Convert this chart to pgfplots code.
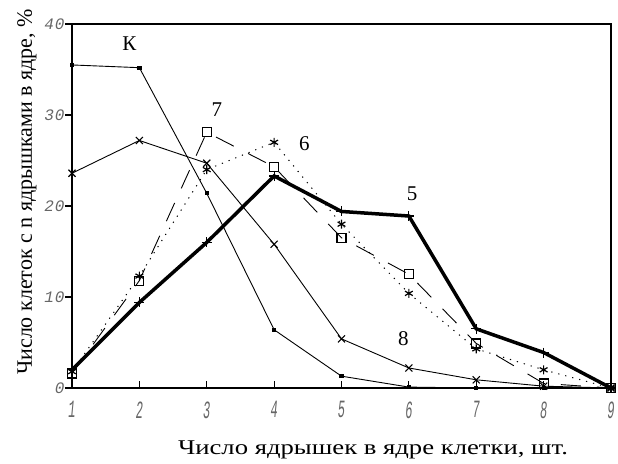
\documentclass[border=0pt]{standalone}
\usepackage{fontspec}
\setmainfont{Liberation Serif}
\newfontfamily\tickfont{Liberation Mono}
\usepackage{graphicx}
\usepackage{pgfplots}
\pgfplotsset{compat=1.18}
\definecolor{tickgray}{gray}{0.4}
\newcommand\xtl[1]{\scalebox{0.75}[1.55]{\fontsize{16}{16}\selectfont\tickfont\itshape\color{tickgray}#1}}
\newcommand\ytl[1]{{\fontsize{16}{16}\selectfont\tickfont\itshape\color{tickgray}#1}}
\begin{document}
\begin{tikzpicture}
\begin{axis}[
  at={(0,0)}, anchor=south west,
  scale only axis,
  width=539pt, height=364pt,
  xmin=1, xmax=9, ymin=0, ymax=40,
  xtick={1,...,9}, ytick={0,10,20,30,40},
  xticklabels={\xtl{1},\xtl{2},\xtl{3},\xtl{4},\xtl{5},\xtl{6},\xtl{7},\xtl{8},\xtl{9}},
  yticklabels={\ytl{0},\ytl{1\hspace{1pt}0},\ytl{2\hspace{1pt}0},\ytl{3\hspace{1pt}0},\ytl{4\hspace{1pt}0}},
  axis line style={line width=1.3pt},
  every tick/.style={black, line width=1.1pt},
  xtick pos=bottom, ytick pos=left,
  xtick align=inside, ytick align=outside,
  major tick length=7pt,
  xticklabel style={yshift=-10pt},
  yticklabel style={xshift=3pt},
  clip=false,
]
% K
\addplot[black, line width=0.9pt, mark=square*, mark size=1.6pt] coordinates {
(1,35.5) (2,35.2) (3,21.4) (4,6.4) (5,1.3) (6,0.1) (7,0) (8,0) (9,0)};
% 8
\addplot[black, line width=0.9pt, mark=x, mark size=5pt, mark options={line width=1.1pt}] coordinates {
(1,23.6) (2,27.2) (3,24.7) (4,15.8) (5,5.4) (6,2.2) (7,0.9) (8,0.2) (9,0)};
% 5
\addplot[black, line width=3.5pt, mark=+, mark size=5pt, mark options={line width=1.1pt}] coordinates {
(1,2.0) (2,9.4) (3,16.0) (4,23.3) (5,19.4) (6,18.9) (7,6.5) (8,3.9) (9,0)};
% 6
\addplot[black, line width=1pt, dash pattern=on 1.2pt off 6pt, mark=asterisk, mark size=4.5pt, mark options={solid, line width=1.2pt}] coordinates {
(1,1.8) (2,12.3) (3,24.0) (4,27.0) (5,18.0) (6,10.4) (7,4.3) (8,2.0) (9,0)};
% 7
\addplot[black, line width=0.9pt, dash pattern=on 20pt off 16pt, mark=square, mark size=4.5pt, mark options={solid, line width=1.2pt}] coordinates {
(1,1.6) (2,11.8) (3,28.1) (4,24.3) (5,16.5) (6,12.5) (7,4.9) (8,0.5) (9,0)};
\node[font=\fontsize{21}{21}\selectfont] at (axis cs:1.85,37.8) {К};
\node[font=\fontsize{21}{21}\selectfont] at (axis cs:3.15,30.6) {7};
\node[font=\fontsize{21}{21}\selectfont] at (axis cs:4.45,26.9) {6};
\node[font=\fontsize{21}{21}\selectfont] at (axis cs:6.05,21.4) {5};
\node[font=\fontsize{21}{21}\selectfont] at (axis cs:5.92,5.4) {8};
\end{axis}
\node[rotate=90, font=\fontsize{22}{22}\selectfont] at (-45pt,196pt) {Число клеток с n ядрышками в ядре, \%};
\node[font=\fontsize{21}{21}\selectfont] at (301pt,-62pt) {\scalebox{1.27}[1]{Число ядрышек в ядре клетки, шт.}};
\pgfresetboundingbox
\path[use as bounding box] (-72pt,-75pt) rectangle (546pt,388pt);
\end{tikzpicture}
\end{document}
